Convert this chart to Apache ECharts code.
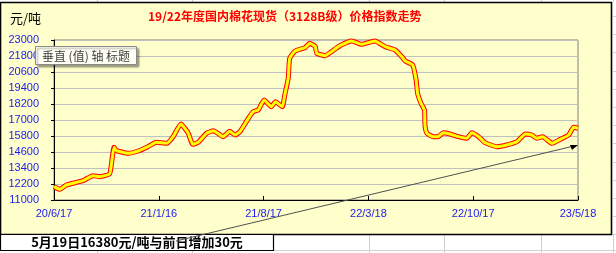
<!DOCTYPE html>
<html><head><meta charset="utf-8">
<script src="https://cdn.jsdelivr.net/npm/echarts@6/dist/echarts.min.js"></script>
<style>html,body{margin:0;padding:0;background:#fff}#c{width:616px;height:253px}</style>
</head><body><div id="c"></div>
<script>
const dates = ["2020-06-17","2020-06-29","2020-07-12","2020-08-15","2020-09-04","2020-09-18","2020-10-08","2020-10-11","2020-10-17","2020-10-22",
"2020-11-15","2020-12-05","2020-12-25","2021-01-11","2021-02-01","2021-02-14","2021-03-02","2021-03-10","2021-03-17","2021-03-26",
"2021-04-06","2021-04-23","2021-05-07","2021-05-27","2021-06-09","2021-06-20","2021-06-30","2021-07-17","2021-07-27","2021-08-06",
"2021-08-18","2021-09-02","2021-09-10","2021-09-24","2021-09-29","2021-10-06","2021-10-09","2021-10-20","2021-11-09","2021-11-19",
"2021-11-30","2021-12-03","2021-12-20","2022-01-02","2022-01-19","2022-02-12","2022-03-04","2022-03-31","2022-04-21","2022-05-11",
"2022-05-25","2022-06-01","2022-06-16","2022-06-23","2022-06-26","2022-07-03","2022-07-10","2022-07-11","2022-07-15","2022-07-28",
"2022-08-07","2022-08-17","2022-08-31","2022-09-17","2022-10-04","2022-10-14","2022-10-28","2022-11-10","2022-12-04","2022-12-24",
"2023-01-14","2023-01-31","2023-02-13","2023-02-23","2023-03-07","2023-03-26","2023-04-12","2023-04-29","2023-05-09","2023-05-18"];
const prices = [12000,11800,12125,12450,12825,12750,12950,13500,14950,14700,
14500,14675,15000,15325,15250,15750,16700,16375,16000,15175,
15325,16000,16200,15750,16150,15875,16125,17125,17625,17750,
18500,18000,18375,18000,18875,20125,21625,22175,22425,22750,
22500,22000,21825,22125,22575,22925,22675,22925,22500,22250,
21750,21425,21125,20000,19000,18250,17750,16625,16000,15750,
15750,16050,15950,15750,15625,16050,15750,15300,15000,15125,
15375,15950,15875,15625,15750,15250,15550,15875,16450,16380];
const yTicks = [11000,12200,13400,14600,15800,17000,18200,19400,20600,21800,23000];
const xTickDates = ["20/6/17","21/1/16","21/8/17","22/3/18","22/10/17","23/5/18"];
const title = "19/22年度国内棉花现货（3128B级）价格指数走势";
const unit = "元/吨";
const note = "5月19日16380元/吨与前日增加30元";
const axisTitleBox = "垂直 (值) 轴 标题";

const base = Date.UTC(2020,5,17);
function dayIdx(s){const p=s.split('-').map(Number);return (Date.UTC(p[0],p[1]-1,p[2])-base)/86400000;}
const pts = dates.map((d,i)=>[dayIdx(d),prices[i]]);
function fmt(v){const d=new Date(base+Math.round(v)*86400000);return (d.getUTCFullYear()%100)+'/'+(d.getUTCMonth()+1)+'/'+d.getUTCDate();}

const chart = echarts.init(document.getElementById('c'));
const gridLinesV = [97,192,369,444,541,613];
const graphics = [
  {type:'rect',z:-10,shape:{x:0.5,y:2.5,width:611,height:232},style:{fill:'#FFFFCC',stroke:'#000',lineWidth:1.6},silent:true},
];
for(const x of gridLinesV){
  graphics.push({type:'line',z:-11,shape:{x1:x+0.5,y1:0,x2:x+0.5,y2:2},style:{stroke:'#d0d0d0',lineWidth:1}});
  graphics.push({type:'line',z:-11,shape:{x1:x+0.5,y1:235,x2:x+0.5,y2:253},style:{stroke:'#d0d0d0',lineWidth:1}});
}
for(let y=16;y<253;y+=18.2){
  graphics.push({type:'line',z:-11,shape:{x1:613,y1:Math.round(y)+0.5,x2:616,y2:Math.round(y)+0.5},style:{stroke:'#d0d0d0',lineWidth:1}});
}
graphics.push({type:'line',z:-11,shape:{x1:273,y1:250.5,x2:616,y2:250.5},style:{stroke:'#d0d0d0',lineWidth:1}});
graphics.push({type:'rect',z:5,shape:{x:0.5,y:234.5,width:273,height:16},style:{fill:'#fff',stroke:'#000',lineWidth:1.2}});
graphics.push({type:'text',z:6,style:{text:note,x:137,y:242.5,textAlign:'center',textVerticalAlign:'middle',font:'bold 13px "Noto Sans CJK SC"',fill:'#000'}});
graphics.push({type:'text',z:6,style:{text:title,x:148,y:16,textAlign:'left',textVerticalAlign:'middle',font:'bold 12px "Noto Sans CJK SC"',fill:'#ff0000'}});
graphics.push({type:'text',z:6,style:{text:unit,x:10,y:18,textAlign:'left',textVerticalAlign:'middle',font:'13px "Noto Sans CJK SC"',fill:'#000'}});
graphics.push({type:'rect',z:20,shape:{x:35.5,y:46.5,width:101,height:18},style:{fill:'#FFFFF4',stroke:'#8a8a8a',lineWidth:1,shadowBlur:2,shadowOffsetX:2,shadowOffsetY:2,shadowColor:'rgba(0,0,0,0.35)'}});
graphics.push({type:'text',z:21,style:{text:axisTitleBox,x:86,y:56,textAlign:'center',textVerticalAlign:'middle',font:'12px "Noto Sans CJK SC"',fill:'#404040'}});
graphics.push({type:'line',z:8,shape:{x1:176,y1:241,x2:574,y2:146},style:{stroke:'#505050',lineWidth:1}});
graphics.push({type:'polygon',z:8,shape:{points:[[578,145],[570,145],[572,150]]},style:{fill:'#000'}});

chart.setOption({
  animation:false,
  backgroundColor:'transparent',
  graphic:graphics,
  grid:{left:54,top:40,width:524,height:160,show:true,borderColor:'#808080',borderWidth:1,backgroundColor:'#FFFFCC'},
  xAxis:{type:'value',min:0,max:1065,interval:213,
    axisLine:{show:true,lineStyle:{color:'#000',width:1}},
    axisTick:{show:true,inside:true,length:4,lineStyle:{color:'#000'}},
    splitLine:{show:false},
    axisLabel:{color:'#1a1aee',fontSize:11,fontFamily:'Liberation Sans',margin:8,formatter:v=>fmt(v),showMinLabel:true,showMaxLabel:true}},
  yAxis:{type:'value',min:11000,max:23000,interval:1200,
    axisLine:{show:true,lineStyle:{color:'#000',width:1}},
    axisTick:{show:true,length:3,lineStyle:{color:'#000'}},
    splitLine:{show:true,lineStyle:{color:'#c0c0c0',width:1}},
    axisLabel:{color:'#1a1aee',fontSize:11,fontFamily:'Liberation Sans',margin:15,formatter:v=>String(v)}},
  series:[
    {type:'line',data:pts,showSymbol:false,smooth:0.15,lineStyle:{color:'#ff0000',width:5},z:3},
    {type:'line',data:pts,showSymbol:false,smooth:0.15,lineStyle:{color:'#ffff00',width:3},z:4}
  ]
});
</script></body></html>
